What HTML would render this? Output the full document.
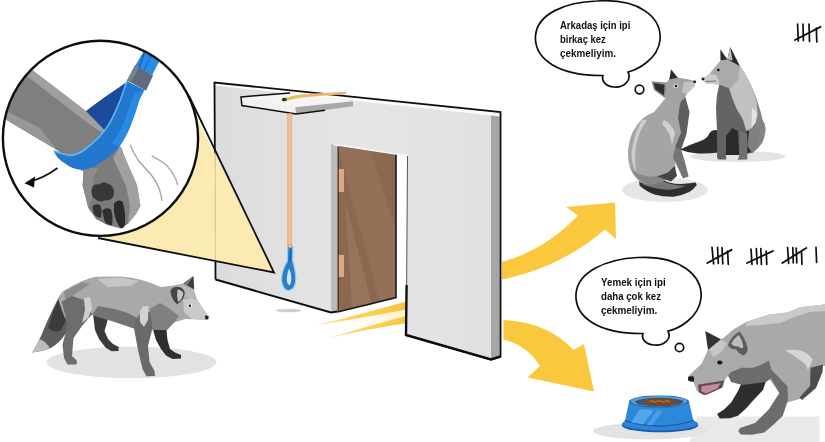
<!DOCTYPE html>
<html>
<head>
<meta charset="utf-8">
<title>Fox rope experiment</title>
<style>
html,body{margin:0;padding:0;background:#fff;}
body{width:825px;height:442px;overflow:hidden;font-family:"Liberation Sans",sans-serif;}
svg{display:block;}
text{font-family:"Liberation Sans",sans-serif;font-weight:bold;fill:#111;}
</style>
</head>
<body>
<svg width="825" height="442" viewBox="0 0 825 442">
<defs>
  <clipPath id="insetClip"><circle cx="100.5" cy="138.3" r="97.6"/></clipPath>
  <linearGradient id="wallG" x1="0" y1="0" x2="1" y2="0">
    <stop offset="0" stop-color="#dcdcdc"/><stop offset="0.5" stop-color="#e6e6e6"/><stop offset="1" stop-color="#e0e0e0"/>
  </linearGradient>
  <filter id="soft" x="-5%" y="-5%" width="110%" height="110%"><feGaussianBlur stdDeviation="0.45"/></filter>
  <filter id="soft2" x="-20%" y="-20%" width="140%" height="140%"><feGaussianBlur stdDeviation="1.2"/></filter>
  <linearGradient id="streakG" x1="0" y1="0" x2="1" y2="0"><stop offset="0" stop-color="#fbe59a"/><stop offset="0.5" stop-color="#f8d35a"/><stop offset="1" stop-color="#f5c63e"/></linearGradient>
  <linearGradient id="glowG" x1="0" y1="0" x2="1" y2="0"><stop offset="0" stop-color="#fff8dc" stop-opacity="0"/><stop offset="1" stop-color="#fdf0bf" stop-opacity="0.9"/></linearGradient>
</defs>
<rect width="825" height="442" fill="#ffffff"/>
<g filter="url(#soft)">

<!-- ============ GROUND SHADOWS ============ -->
<g id="shadows">
  <ellipse cx="131.5" cy="362.3" rx="85" ry="15.8" fill="#e2e2e2"/>
  <ellipse cx="288.5" cy="310.5" rx="13" ry="1.8" fill="#cfcfcf"/>
  <ellipse cx="665" cy="190" rx="43" ry="12" fill="#e6e6e6"/>
  <ellipse cx="738" cy="156.5" rx="48" ry="5.5" fill="#e4e4e4"/>
  <path d="M697 416.5 L819.5 416.5 L819.5 442 L690 442 Z" fill="#e9e9e9"/>
  <ellipse cx="650" cy="431" rx="57" ry="8.5" fill="#e3e3e3"/>
</g>

<!-- ============ YELLOW STREAKS FROM DOOR ============ -->
<g id="streaks">
  <path d="M340 322 Q372 312 406 302 L406 324 Q380 326 352 331 Z" fill="url(#glowG)"/>
  <path d="M314.5 325.6 Q362 314 406 301.5 L406 309.5 Q362 318 314.5 325.6 Z" fill="url(#streakG)"/>
  <path d="M329 338 Q368 326 406 316 L406 323 Q368 329 329 338 Z" fill="url(#streakG)"/>
</g>

<!-- ============ WALL ============ -->
<g id="wall">
  <!-- left panel + top beam + right panel as one face -->
  <path d="M214.5 82.5 L500.5 112 L500.5 356.5 L491 359.5 L406 335 L407.5 155 L331 143.5 L331 312.5 L215.5 279.5 Z" fill="url(#wallG)"/>
  <!-- white top strip -->
  <path d="M214.5 82.5 L500.5 112 L500.5 116.5 L215 85.5 Z" fill="#fbfbfb"/>
  <!-- right side dark strip -->
  <path d="M491 115.5 L499.5 116.5 L499.5 356.5 L491 359 Z" fill="#a6a6a6"/>
  <!-- door frame left grey strip -->
  <path d="M331 143.5 L337.5 144.6 L337.5 311.5 L331 312.5 Z" fill="#bcbcbc"/>
  <!-- white lintel strip -->
  <path d="M331 143.5 L407.5 155 L407.5 158 L337.5 147 Z" fill="#f6f6f6"/>
  <!-- door -->
  <path d="M337.5 146 L396 154.8 L396 297.5 L337.5 312 Z" fill="#8b6850"/>
  <path d="M337.5 146 L370 151 L396 230 L396 297.5 L380 301 Z" fill="#96725a" opacity="0.8"/>
  <path d="M345 200 L372 305 L352 308 Z" fill="#a07c63" opacity="0.55"/>
  <!-- hinges -->
  <rect x="336.5" y="169" width="7.5" height="23" fill="#d9a988"/>
  <rect x="337.5" y="255" width="6.5" height="22" fill="#d9a988"/>
  <!-- outlines -->
  <path d="M215.5 279.5 L214.5 82.5 L500.5 112 L500.5 356.5 L491 359.5 L406 335" fill="none" stroke="#111" stroke-width="1.8" stroke-linejoin="miter"/>
  <path d="M215.5 279.5 L331 312.5 L337.5 311.5" fill="none" stroke="#111" stroke-width="2"/>
  <path d="M337.5 312 L396 297.5 L396 154.8" fill="none" stroke="#1a1a1a" stroke-width="1.6"/>
  <path d="M407.5 156 L406.6 290" fill="none" stroke="#555" stroke-width="1"/>
  <path d="M338.2 147 L338.2 311" fill="none" stroke="#3a2a20" stroke-width="1.1"/>
  <path d="M406.6 285 L406 335 L491 359.5 L500.5 356.5" fill="none" stroke="#111" stroke-width="2.4" stroke-linejoin="miter"/>
</g>

<!-- ============ CONE ============ -->
<g id="cone">
  <path d="M274 272.5 L193 110 A97.6 97.6 0 0 1 95 236 Z" fill="#fbebb2"/>
  <path d="M215.3 150 L215.5 262" stroke="#d9c98e" stroke-width="1.2" fill="none"/>
  <path d="M189 96 L274 272.5 L98 238" fill="none" stroke="#111" stroke-width="1.8" stroke-linejoin="miter"/>
</g>

<!-- ============ SHELF + ROPE ============ -->
<g id="shelf">
  <path d="M241 97 L290 92.7 L353 101.2 L295.3 107.2 Z" fill="#f5f5f5"/>
  <path d="M241 97 L295.3 107.2 L296.2 114 L241.9 105.5 Z" fill="#f1f1f1"/>
  <path d="M295.3 107.2 L353 101.2 L353 106.3 L296.2 114 Z" fill="#a9a9a9"/>
  <path d="M290 92.9 L241 97 L241.9 105.5 L296.2 114 L325 110.3" fill="none" stroke="#111" stroke-width="1.5"/>
  <!-- rope on shelf -->
  <path d="M286 99.3 Q300 95.5 318 94.6 L345 93" fill="none" stroke="#eeb36f" stroke-width="2.6" stroke-linecap="round"/>
  <path d="M286 99.3 Q294 96.6 301 96" fill="none" stroke="#e9c15a" stroke-width="2.8" stroke-linecap="round"/>
  <ellipse cx="284.3" cy="99.6" rx="2.6" ry="1.8" fill="#333"/>
  <!-- vertical rope -->
  <rect x="287.6" y="113.5" width="4" height="133" fill="#efc29a"/>
  <path d="M287.8 113.5 V246 M291.4 113.5 V246" stroke="#e2a46e" stroke-width="0.8" fill="none"/>
</g>

<!-- ============ BLUE LOOP ============ -->
<g id="loop">
  <path d="M287.8 246.5 L287.4 261 Q281.6 271 281.5 280 Q283 290.5 288.6 290.5 Q295 289.5 295.8 280 Q295.4 269 292.6 261 L292.8 246.5 Q290.3 244.5 287.8 246.5 Z" fill="#2b7cc6" stroke="#8cc9f3" stroke-width="1.2" stroke-linejoin="round"/>
  <path d="M289 268.5 Q286.3 276 286.9 281.5 Q288.4 286 290 285 Q291.8 282 291.2 276 Q290.6 271 289 268.5 Z" fill="#d5e3ef"/>
  <path d="M290.5 249 L290 262" stroke="#1b5a9a" stroke-width="1" fill="none"/>
  <circle cx="290.2" cy="246.3" r="1.6" fill="#e8e0d8" stroke="#d98a4d" stroke-width="0.9"/>
</g>

<!-- ============ BIG ARROWS ============ -->
<g id="arrows" fill="#f9c83c">
  <path d="M502 262 Q545 250 578 215.5 L566 207 L615 202.5 L616 239 L605 229.5 Q560 268 502 279.5 Z"/>
  <path d="M503.5 320 Q548 322 573.5 350 L584 344 L594 391.5 L527.5 377.5 L540 366 Q527 345 503.5 339.5 Z"/>
</g>

<!-- ============ THOUGHT BUBBLES ============ -->
<g id="bubbles" fill="#fff" stroke="#111" stroke-width="1.7">
  <path d="M597 1 C640 -2 662 18 660 40 C658 60 636 70 628 72 C632 80 624 88 614 87 C606 86.5 601 81 603 75.5 C560 76 534 60 535.5 36 C537 14 565 2 597 1 Z"/>
  <circle cx="639.5" cy="89.5" r="4.3"/>
  <path d="M638 257.5 C680 255 703 276 701 298 C699 318 678 329 668 331 C672 339 664 346 654 345 C646 344.5 641 339 643 333.5 C600 334 574.5 318 576 294 C577.5 272 606 259 638 257.5 Z"/>
  <circle cx="679.5" cy="347.5" r="4.2"/>
</g>
<g id="bubbleText" font-size="10.4">
  <text x="560" y="28.5" textLength="70.3" lengthAdjust="spacingAndGlyphs">Arkadaş için ipi</text>
  <text x="560" y="42.7" textLength="45.8" lengthAdjust="spacingAndGlyphs">birkaç kez</text>
  <text x="560" y="56.5" textLength="56" lengthAdjust="spacingAndGlyphs">çekmeliyim.</text>
  <text x="601" y="285.8" textLength="64.8" lengthAdjust="spacingAndGlyphs">Yemek için ipi</text>
  <text x="601" y="300.2" textLength="60" lengthAdjust="spacingAndGlyphs">daha çok kez</text>
  <text x="601" y="314.3" textLength="56.2" lengthAdjust="spacingAndGlyphs">çekmeliyim.</text>
</g>

<!-- ============ TALLY MARKS ============ -->
<g id="tally" stroke="#111" stroke-width="1.7" stroke-linecap="round" fill="none">
  <path d="M797.6 24 L798.3 41 M803 24 L803.4 40.5 M809 24 L809.5 41.5 M816.3 28 L816.8 42"/>
  <path d="M795 40 L820.5 26.8" stroke-width="1.9"/>
  <path d="M712 247.3 L713.6 264 M717.6 247.3 L718.3 263.5 M722 247.5 L722.8 264 M727.6 251 L728.3 264.5"/>
  <path d="M707.3 263 L731.5 249.8" stroke-width="1.9"/>
  <path d="M751 249 L752 264.5 M756.3 248.5 L757.2 264 M760.8 248.5 L761.4 264.5 M766.2 251 L766.8 264.5"/>
  <path d="M747 263 L773 251" stroke-width="1.9"/>
  <path d="M787.6 247.5 L788.6 263.5 M792.8 247.5 L793.3 263 M796.2 248 L796.8 263 M801.5 252 L802 264.5"/>
  <path d="M782.3 263 L806.3 248" stroke-width="1.9"/>
  <path d="M816 247.3 L816.6 262.5"/>
</g>

<!-- ============ INSET CIRCLE ============ -->
<g id="inset">
  <circle cx="100.5" cy="138.3" r="97.6" fill="#fff"/>
  <g clip-path="url(#insetClip)" id="insetContent">
    <!-- faint lines left-bottom -->
    <path d="M12 203 Q22 206 33 210" stroke="#e3e3e3" stroke-width="1" fill="none"/>
    <!-- back strap band (dark blue) -->
    <path d="M86 111 Q100 100 125.4 83 L128 81 L121 100 L116.5 110 Q110 125 99.7 136.4 L86 125 Z" fill="#1b4b9c"/>
    <!-- upper leg -->
    <path d="M18 59 L32.5 70.3 L85.5 110.7 L101 126.5 L122 149 L128 172 L84 172 L57 150 L30 134 L-5 113 Z" fill="#7f7f7f"/>
    <path d="M18 59 L32.5 70.3 L85.5 110.7 L101 126.5 L110 136 L96 129 L80 117 L28 77 L13 65 Z" fill="#9f9f9f"/>
    <path d="M-5 113 L30 134 L57 150 L40 128 L8 112 Z" fill="#979797"/>
    <!-- lower leg / paw -->
    <path d="M83.8 168 L82.6 185.3 L88.3 208 L96 219 L105.3 224 L111 226 L121 228.5 L128 223.8 L136 214 L140.4 205.7 L137 185.3 L126 160 L120 146 Z" fill="#7c7c7c"/>
    <path d="M120 146 L126 160 L137 185.3 L140.4 205.7 L136 214 L128 223.8 L130 205 L126 186 L113 158 Z" fill="#a0a0a0"/>
    <path d="M83.8 168 L82.6 185.3 L88.3 208 L92 196 L93 178 L98 168 Z" fill="#8c8c8c"/>
    <!-- pads -->
    <path d="M91.5 190 Q92.5 183 99 184.5 Q103 181 108.5 184 Q114.5 186 114 193.5 Q113 201 104.5 200.5 Q99 203 95 199 Q91 196.5 91.5 190 Z" fill="#383838"/>
    <path d="M92.5 206.5 Q96 202.5 100.5 205.5 Q102.5 212 101 217.5 Q96 218 93.8 213.5 Z" fill="#333"/>
    <path d="M102.3 210.5 Q106 206.5 111 209.5 Q113.5 217 112 225 Q107 226 104.3 220.5 Z" fill="#2f2f2f"/>
    <path d="M114 203.5 Q118 198.5 122.5 201.5 Q126 212 125 224.5 Q123.3 229.5 120.5 228 Q115.5 222 114 212 Z" fill="#2c2c2c"/>
    <!-- front strap band -->
    <path d="M120.3 100 L116 110 Q110 125 99.7 136.4 Q92 144 85.4 149 Q77 155.5 69.6 155.4 Q61 154 53.8 150.7 Q56 158 64.8 163.3 Q72 169.5 82 170 Q92 169 99.7 163.3 Q111 156 118.7 147.5 Q127 136 131.3 123.8 Q136 112 139.3 100 L144.4 90 L127 81.2 Z" fill="#2377cf"/>
    <path d="M127 81.2 L120.3 100 L116 110 Q110 125 99.7 136.4 Q92 144 85.4 149 Q77 155.5 69.6 155.4 Q61 154 53.8 150.7" fill="none" stroke="#63b4f2" stroke-width="1.6"/>
    <path d="M144.4 90 L139.3 100 Q136 112 131.3 123.8 Q127 136 118.7 147.5 L112 143 Q121 131 125.5 118 Q130 104 135 93 Z" fill="#2b8de6" opacity="0.85"/>
    <!-- strap above clasp -->
    <path d="M142.8 52.7 L135 66 L152.3 75 L158.7 62.2 L166 48 L150 40 Z" fill="#2a8ce4"/>
    <path d="M147 45 L139 68" stroke="#1a5cb4" stroke-width="1.6" fill="none"/>
    <path d="M151.5 55 L144 70" stroke="#1f6cc8" stroke-width="1.2" fill="none"/>
    <!-- clasp -->
    <path d="M135 65.3 L153.1 75.6 L146 90.7 L127 80.4 Z" fill="#5f6b7a"/>
    <path d="M135 65.3 L139 67.5 L131 82.6 L127 80.4 Z" fill="#76828f"/>
    <!-- arrow -->
    <path d="M57.5 168 Q44 178 30 181.5" fill="none" stroke="#111" stroke-width="1.6"/>
    <path d="M24.5 183.2 L35 176.5 L34 187.5 Z" fill="#111"/>
    <!-- motion lines -->
    <path d="M130 144.5 Q133 152 138 160 Q144 167 150.5 174 Q157 182 159.6 190 Q161.5 196 162 201" fill="none" stroke="#a2a2a2" stroke-width="1.3"/>
    <path d="M151.7 155.8 Q160 160 166.4 165 Q172 171 175.5 178.5 L177.7 185" fill="none" stroke="#a8a8a8" stroke-width="1.3"/>
  </g>
  <circle cx="100.5" cy="138.3" r="97.6" fill="none" stroke="#111" stroke-width="2.4"/>
</g>

<!-- FOXES -->
<g id="foxWalk">
  <!-- far hind leg -->
  <path d="M93 314 L108 319 L104.5 331 L108 339 L113 344 L118.8 347 L118.5 351 L111.5 351.2 L105.5 347.5 L99 339 L95 330 Z" fill="#3a3a3a"/>
  <!-- far front leg -->
  <path d="M152 326 L166 326 L167.5 340 L170 349 L175 352.5 L181 355 L181 358.6 L172.5 359 L166 355.5 L161 349 L156 340 Z" fill="#2f2f2f"/>
  <!-- tail -->
  <path d="M60 295 Q53 308 46 324 Q40 340 32.3 352.4 Q42 351.5 50 348.5 Q60 343 66 333 Q72 322 73 310 L68 299 Z" fill="#5c5c5c"/>
  <path d="M58.5 299 Q52 313 48 328 Q55 334 61 330 Q67 320 68 308 Z" fill="#3a3a3a"/>
  <path d="M32.3 352.4 L39.5 339.5 Q45 340 50 348.5 Q42 351.5 32.3 352.4 Z" fill="#bcbcbc"/>
  <!-- body -->
  <path d="M58.3 299.4 Q60 293 64 290.4 Q73 285 82 281.3 Q89 278 95.6 276.8 L120 276.6 Q132 277.5 142.6 280.2 Q152 283 160.7 287 L172 285.8 L183.3 283.6 L193.5 289.2 L197 299.4 L208.4 316.5 L207 319.8 L185.6 319 L174 322.5 L167 330 L150 329.5 L134 328.5 L115 322 L92.2 315 L80 323 L70 326 L64 316 Z" fill="#a9a9a9"/>
  <!-- darker underside/neck -->
  <path d="M92.2 315 L98 306 Q112 308 125 312 L140 319 L152 329.5 L134 328.5 L115 322 Z" fill="#737373"/>
  <path d="M150 309 L160 303 L170 309 L179 316 L174 322.5 L167 330 L150 329.5 Z" fill="#808080"/>
  <!-- lighter saddle -->
  <path d="M97 279 L120 277.5 L139 281 L130 286 L108 287 Z" fill="#c6c6c6"/>
  <path d="M64 291.5 L82 282.3 L90 284 L72 296 L66 304 Z" fill="#8d8d8d"/>
  <!-- near hind leg -->
  <path d="M61.7 301.7 L72 296 L84 300 L92 314 L82 326 L73.5 338 L72 356 L77 360.8 L76.5 364.6 L67.5 364.6 L64 358 L62.5 344.7 L65.5 333.3 L67 322 Z" fill="#6d6d6d"/>
  <path d="M84 298 L90 297 L92.2 308 L88 318 L82 323 L85 310 Z" fill="#cfcfcf"/>
  <!-- near front leg -->
  <path d="M133.6 326 L140 312 L150.4 312 L152.5 328 L148 346 L149.5 362 L154.5 371 L155 376 L146.5 376.2 L142.5 369 L138 350 Z" fill="#6a6a6a"/>
  <path d="M139.5 312 L143 306.5 L148.5 306 L148 320 L144 327 L140 322 Z" fill="#d2d2d2"/>
  <!-- head lighter areas -->
  <path d="M183 300 L190 298 L197 300 L208.4 316.5 L207 319.8 L192 319 L184 312 Z" fill="#c9c9c9"/>
  <path d="M172 287 L183 284.5 L193 290 L196 299 L188 297 L180 298 Z" fill="#b9b9b9"/>
  <!-- far ear -->
  <path d="M183.3 283.6 L193.5 276 L194.2 289.6 Z" fill="#3c3c3c"/>
  <path d="M183.3 283.6 L193.5 276 L187 285.5 Z" fill="#7a7a7a"/>
  <!-- near ear -->
  <path d="M170.5 291 Q172 286.5 178 286.8 Q184.5 288 184.8 293.5 Q184 300 177 304.2 Q171 299 170.5 291 Z" fill="#454545"/>
  <path d="M177.5 289.5 Q183 290 183.3 294 Q182.5 299 178 302 Q176.5 296 177.5 289.5 Z" fill="#c4c4c4"/>
  <!-- eye & nose -->
  <ellipse cx="189.6" cy="305.4" rx="2.4" ry="1.9" fill="#e9e9e9"/>
  <ellipse cx="189.8" cy="305.8" rx="1.1" ry="1.3" fill="#111"/>
  <path d="M204.8 315.5 L208.6 316 L208.4 319.2 L205.5 319.6 Z" fill="#222"/>
</g>
<g id="foxSitA">
  <!-- tail -->
  <path d="M639 178.5 Q647 176.5 654.4 177.3 Q662 179.5 669 182.4 Q677 184.4 683.8 183.8 Q690 183 695.6 182.4 L696.8 185 Q694 189 689.7 191.7 Q682 195.6 673.5 196.8 Q663 197 654.4 194.4 Q646 191.5 639.5 185.5 Z" fill="#2f2f2f"/>
  <path d="M641 180 Q648 178 654.4 178.6 Q662 180.5 669 183.6 Q677 186 686 185.6 Q676 190.5 664 189.5 Q652 188 643 184.5 Z" fill="#767676"/>
  <!-- body -->
  <path d="M665.2 98.5 L654 112 Q647 115 642.6 118.5 Q636 125 632.4 132.6 Q628.5 142 627.9 153 Q627.8 162 630.2 168.8 Q634 177 640.4 182.4 Q647 185 654 184 L669.8 179 L676 172 L674.3 155.2 L681 132.6 L686 112 L684 95 Z" fill="#a5a5a5"/>
  <path d="M631 169 Q636 179 645 183.5 Q652 185 660 182 L670 178.5 L673 170 Q658 178.5 645 176 Q637 174 631 169 Z" fill="#868686"/>
  <!-- highlight along back -->
  <path d="M642 120 Q634 134 631.5 152 Q631.5 164 636 172 Q633.5 152 638 138 Q641 128 647 120 Z" fill="#cdcdcd"/>
  <path d="M664 120 Q672 124 675 133 Q673 140 672 146 Q671 132 662 124 Z" fill="#d0d0d0"/>
  <!-- dark chest -->
  <path d="M684.5 94 L689.5 112 L686.5 134 L681.5 148.5 L677 152 L675.5 146 L681 132.6 L678 118 L680 104 Z" fill="#5e5e5e"/>
  <!-- front leg -->
  <path d="M675 148 L681 149 L685 162 L688.6 176.5 L683 178.5 L678 168 L673 157.5 Z" fill="#757575"/>
  <path d="M657 176.5 L668 172.5 L674.5 166 L677 176 L671 181.5 Z" fill="#454545"/>
  <!-- head -->
  <path d="M665.2 98.5 L666.4 82.6 L669.3 79.2 L677.7 77.6 L687.9 79.2 L695.6 81.3 L694.7 86 L686.7 94 L684 99 L676 104 Z" fill="#a2a2a2"/>
  <path d="M684 82 L695.6 81.3 L694.7 86 L686.7 94 L682 92 Z" fill="#c2c2c2"/>
  <!-- ears -->
  <path d="M669.3 79.4 L671 69.3 L677.9 77.8 Z" fill="#2f2f2f"/>
  <path d="M651.5 81.3 L666.6 82.6 L665.4 98.5 L654 90 Z" fill="#8c8c8c"/>
  <path d="M653.5 83 L664.5 84.8 L664 95.5 L655.5 89.5 Z" fill="#2e2e2e"/>
  <!-- eye, nose -->
  <ellipse cx="675.6" cy="86" rx="2.4" ry="1.9" fill="#e6e6e6"/>
  <ellipse cx="675.9" cy="86" rx="1.2" ry="1.3" fill="#111"/>
  <ellipse cx="694.6" cy="81.8" rx="1.5" ry="1.3" fill="#1a1a1a"/>
</g>
<g id="foxSitB">
  <!-- tail -->
  <path d="M680 149.4 Q689 145 700.6 141 Q707.5 138.5 709.5 133 Q713 128.5 719 131 L719 152.5 Q706 153.8 695.8 153.2 Q687 152.4 680 149.4 Z" fill="#2e2e2e"/>
  <!-- body back part -->
  <path d="M739.8 66 Q746 74 750 83 Q755 93 757.9 103.3 Q761 112 762.4 119.2 Q766 125 765.6 130 Q765 137 762.3 142.7 Q758 149 752.8 153 L742 154.5 L730 150 L722 120 L726 84 Z" fill="#848484"/>
  <!-- dark belly -->
  <path d="M722 128 L745 128 Q752 133 753 140 L752 152 L741 155 L722 155 Z" fill="#2b2b2b"/>
  <path d="M751 118 Q758 124 759.5 132 Q759 140 756.5 146 L751.5 152.5 L747.5 146 L749 132 Z" fill="#7f7f7f"/>
  <!-- mane light -->
  <path d="M727 60 L739.8 66 Q746 74 750 83 Q754.5 93 757 103.3 L757.5 116 L752 128 L746 131 L742 118 L736 108 L730 92 L722 82 Z" fill="#c1c1c1"/>
  <path d="M752 108 L757 112 L756 122 L751.5 128 Z" fill="#e3e3e3"/>
  <!-- chest dark -->
  <path d="M719.4 84 Q716 96 716 108 L717 131 L717.2 158 L726 158 L726 136 L732 128 L738 131 L739.4 158 L747 158 L747 134 L743 120 L737 110 L732 98 L729 88 Z" fill="#636363"/>
  <path d="M739.4 131 L747.3 134 L747.3 159.6 L737.5 159.8 L739.4 156 Z" fill="#707070"/>
  <path d="M717.2 154 L725.9 154 L726.3 159.4 L717.8 159.4 Z" fill="#606060"/>
  <!-- head -->
  <path d="M720.5 60.4 L727.3 59.2 L739.8 66 L738 80 L730 88.5 L719.4 84.6 L706 83.4 L702.2 79 L709.2 74 Z" fill="#aaaaaa"/>
  <path d="M702.2 79 L709.2 74 L716 75 L719 81 L719.4 84.6 L706 83.4 Z" fill="#cbcbcb"/>
  <!-- ears -->
  <path d="M720.5 60.6 L720.3 49.3 L727.5 59.4 Z" fill="#2e2e2e"/>
  <path d="M727.3 59.2 L730.3 47 L740 66.2 Z" fill="#2c2c2c"/>
  <path d="M727.3 59.2 L730.3 47 L732.5 60.5 Z" fill="#bdbdbd"/>
  <!-- eye, nose -->
  <ellipse cx="718.3" cy="70" rx="1.3" ry="1.2" fill="#111"/>
  <ellipse cx="703" cy="79" rx="1.5" ry="1.4" fill="#1a1a1a"/>
  <path d="M706 81.5 L716 81" stroke="#555" stroke-width="0.8" fill="none"/>
</g>
<g id="foxEat">
  <!-- far front leg -->
  <path d="M742 382 L767 378 L763 390 L754 399.5 L746 408.5 L738 415.7 L730 418.2 L719.8 418.6 L717 414 L724 409.5 L731 402.7 L738 391 Z" fill="#2f2f2f"/>
  <!-- body -->
  <path d="M722.2 338.9 L733 329.8 L746.7 321.7 L769.3 314.4 L787.4 312.6 L800 307.2 L816.3 305.4 L826 304.3 L826 366 L822 366 L815 386.2 L801 398.5 L787.4 402.6 L781 395.2 L770 380 L742 384 L727 376 L720 360 Z" fill="#a9a9a9"/>
  <!-- light stripe on back -->
  <path d="M746.7 321.7 L769.3 314.4 L787.4 312.6 L800 307.2 L816.3 305.4 L826 304.3 L826 311 L810 312 L797 316 L780 323 L760 325 L746 326 Z" fill="#cacaca"/>
  <!-- light haunch patch -->
  <path d="M785 350.4 Q795 348.5 803.5 351.5 Q810 355 812.8 359.6 L808 370 Q806 364 801 360.8 Q794 355 785 350.4 Z" fill="#d6d6d6"/>
  <!-- right dark band -->
  <path d="M810.5 367.7 L823 364.5 L822.5 372 L816 388 L802 400 L799.5 397.5 L810 386 Z" fill="#4e4e4e"/>
  <!-- neck darker band + near leg -->
  <path d="M727 372.5 Q733 366 741 367.5 Q752 369 759.6 365.4 L768.9 360.8 L771.5 370 L787.4 386.2 L788 400 L782.7 416 L772 426 L764.3 432.6 L752 434.8 L741 434.4 L738.2 431.5 L740 428 L755 423 L768.9 409.3 L779.3 393 L771 378 L766 382 L742 385 L731 382 Z" fill="#6c6c6c"/>
  <!-- head -->
  <path d="M708 349.9 L720.7 339 L728 338 L740 340 L748 350 L750 362 L741 368 L731 372 L727 377 L724.3 381 L723.4 387 L703.5 395.4 L697 391 L693.6 382.6 L688.2 380.5 L688.1 376.6 L701.7 363.4 Z" fill="#aaaaaa"/>
  <path d="M709 349 L720.7 339.5 L727 343 L722 352 L713 357 Z" fill="#c6c6c6"/>
  <!-- mouth -->
  <path d="M698 384.8 L724.3 380.4 L721.5 388 L706 395 L699 392.5 Z" fill="#5e4a50"/>
  <path d="M701.7 386.2 L720.7 383.2 L717.5 388.6 L706 393.6 L701 391 Z" fill="#c48a98"/>
  <!-- far ear -->
  <path d="M708 350 L705.2 331 L720.9 339.2 Z" fill="#323232"/>
  <!-- near ear -->
  <path d="M728 345.3 Q731 336 739.7 331.6 Q746 340 747.8 349 Q747 354 743.3 355.5 Q738 353 736 349 Q731 350 728 345.3 Z" fill="#5c5c5c"/>
  <path d="M731 344 Q734 338 739 335 Q742.5 340.5 743.5 347 Q741 349.5 738.5 346.5 Q735 347 731 344 Z" fill="#bcbcbc"/>
  <!-- eye, nose -->
  <ellipse cx="719.8" cy="362.5" rx="2.6" ry="2.1" fill="#111"/>
  <path d="M688 377.2 Q690 375.6 693.5 376.4 Q694.6 379 693.8 381.4 Q690 382 688.2 380.6 Z" fill="#1a1a1a"/>
</g>
<g id="bowl">
  <!-- base band -->
  <ellipse cx="660" cy="425.3" rx="38.3" ry="7" fill="#1a5aa8"/>
  <ellipse cx="660" cy="423.8" rx="38" ry="6.6" fill="#2d83d6"/>
  <!-- body -->
  <path d="M629 401.8 L689 401.8 L693.5 421 Q678 426.5 659.5 426.5 Q641 426.5 625 421 Z" fill="#2f88da"/>
  <path d="M624.6 420.4 Q641 426 659.5 426 Q678 426 693.8 420.4" stroke="#1b5cae" stroke-width="1.3" fill="none"/>
  <path d="M640 409 L654 410 L643 424.5 L631 422.5 Z" fill="#5fb0ef" opacity="0.75"/>
  <path d="M657 410.5 L663 410.5 L652 425.5 L647 425 Z" fill="#5fb0ef" opacity="0.55"/>
  <!-- rim -->
  <ellipse cx="659" cy="401.5" rx="30" ry="6.1" fill="#1c62b4"/>
  <ellipse cx="659" cy="401.2" rx="28.4" ry="5.2" fill="#5d9bd6"/>
  <ellipse cx="659.4" cy="402" rx="24" ry="4.3" fill="#41546a"/>
  <ellipse cx="660" cy="402.2" rx="16" ry="3.7" fill="#7a4728"/>
  <path d="M649 401.8 l3 -1.2 l3 1.4 l4 -1.6 l4 1.6 l4 -1.2 l3 1" stroke="#b06e3c" stroke-width="1.3" fill="none"/>
</g>

</g>
</svg>
</body>
</html>
